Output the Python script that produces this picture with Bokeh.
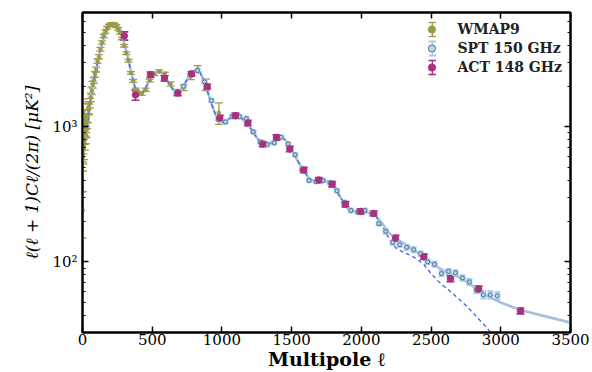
import math
from bokeh.plotting import figure
from bokeh.models import (Range1d, FixedTicker, LinearAxis, LogAxis, Whisker, TeeHead,
                          ColumnDataSource, Legend, LegendItem)
from bokeh.embed import file_html
from bokeh.resources import INLINE

# ---------------- data ----------------
model_ell = [2, 5, 10, 15, 20, 30, 40, 50, 60, 75, 100, 125, 150, 175, 200, 220, 240, 260, 280,
             300, 325, 350, 375, 400, 420, 440, 460, 480, 500, 520, 540, 560, 580, 600, 625, 650,
             675, 700, 725, 750, 775, 800, 820, 840, 860, 880, 900, 925, 950, 975, 1000, 1025,
             1050, 1075, 1100, 1125, 1150, 1175, 1200, 1225, 1250, 1275, 1300, 1325, 1350, 1375,
             1400, 1425, 1450, 1475, 1500, 1525, 1550, 1575, 1600, 1625, 1650, 1675, 1700, 1725,
             1750, 1775, 1800, 1825, 1850, 1875, 1900, 1925, 1950, 1975, 2000, 2050, 2100,
             2150, 2200, 2250, 2300, 2350, 2400, 2450, 2500, 2550, 2600, 2650, 2700, 2750, 2800,
             2850, 2900, 3000, 3140, 3300, 3500]
model_total = [1050, 900, 820, 800, 830, 920, 1060, 1400, 1600, 1950, 2700, 3600, 4500, 5200, 5650,
               5750, 5650, 5300, 4750, 4100, 3250, 2500, 1980, 1750, 1740, 1830, 2000, 2200, 2390,
               2520, 2570, 2530, 2420, 2260, 2040, 1880, 1800, 1840, 2000, 2230, 2450, 2590, 2620,
               2530, 2330, 2060, 1780, 1480, 1260, 1130, 1080, 1090, 1140, 1190, 1210, 1190, 1130,
               1065, 995, 910, 830, 770, 740, 735, 755, 795, 825, 830, 805, 750, 675, 605, 545, 495,
               450, 415, 398, 396, 400, 402, 396, 382, 362, 332, 300, 272, 250, 240, 237, 236, 235,
               232, 222, 192, 163, 148, 138, 128, 118, 108, 99, 91, 85, 81, 77, 72, 66, 60, 56, 50,
               44, 40, 35.5]
# CMB-only (dashed) curve: identical to the total up to l=2100, then these values
cmb_tail_ell = [2150, 2200, 2250, 2300, 2350, 2400, 2450, 2500, 2550, 2600, 2650, 2700, 2750,
                2800, 2850, 2900, 2950]
cmb_tail_d = [182, 148, 126, 118, 112, 105, 95, 82, 72, 65, 59, 53, 47.5, 42, 37, 32.5, 28]

wmap_ell = [2, 3, 4, 5, 6, 7, 8, 9, 10, 12, 14, 16, 18, 20, 23, 26, 29, 33, 37, 42, 47, 53, 59, 66,
            73, 81, 89, 98, 108, 118, 129, 140, 152, 164, 177, 190, 203, 216, 229, 242, 256, 270,
            284, 299, 314, 330, 347, 364, 382, 401, 425, 452, 482, 515, 550, 590, 632, 677, 725,
            775, 827, 885, 978]
wmap_d = [240, 850, 700, 1250, 850, 1200, 680, 1100, 720, 1000, 900, 1150, 800, 1000, 880, 1050,
          960, 1100, 1200, 1390, 1350, 1500, 1650, 1850, 2050, 2200, 2450, 2650, 3050, 3300, 3750,
          4200, 4700, 5050, 5400, 5600, 5700, 5770, 5700, 5550, 5300, 4950, 4500, 3980, 3500, 3080,
          2500, 2180, 1880, 1760, 1760, 1880, 2200, 2450, 2570, 2460, 2070, 1800, 1950, 2350, 2680,
          2050, 1270]
wmap_err = [90, 300, 230, 350, 220, 280, 150, 230, 150, 190, 160, 190, 130, 150, 130, 150, 130,
            130, 130, 140, 120, 120, 120, 120, 120, 110, 110, 110, 110, 110, 120, 120, 130, 130,
            130, 130, 130, 130, 130, 130, 120, 110, 100, 90, 80, 70, 60, 55, 50, 50, 50, 50, 55, 60,
            65, 70, 75, 85, 100, 120, 150, 200, 230]

spt_ell = [675, 725, 775, 825, 875, 925, 975, 1025, 1075, 1125, 1175, 1225, 1275, 1325, 1375,
           1425, 1475, 1525, 1575, 1625, 1675, 1725, 1775, 1825, 1875, 1925, 1975, 2025, 2075,
           2125, 2175, 2225, 2275, 2325, 2375, 2425, 2475, 2525, 2575, 2625, 2675, 2725, 2775,
           2825, 2875, 2925, 2975]
spt_d = [1790, 1990, 2430, 2600, 2150, 1560, 1150, 1085, 1190, 1190, 1150, 915, 770, 740, 760,
         835, 745, 620, 478, 400, 393, 400, 385, 336, 275, 240, 234, 240, 226, 192, 168, 139, 134,
         128, 123, 115, 100, 96, 82, 85, 83, 76, 71, 62, 57, 57, 56]
spt_err = [50, 50, 55, 55, 50, 40, 30, 28, 30, 30, 28, 22, 19, 18, 18, 20, 18, 15, 12, 10, 10, 10,
           10, 9, 8, 7, 7, 7, 7, 6, 6, 5, 5, 5, 5, 4.5, 4, 4, 3.5, 3.5, 3.5, 3.5, 3.5, 3.5, 3.5,
           3.5, 3.5]

act_ell = [300, 380, 488, 588, 684, 782, 894, 985, 1097, 1186, 1293, 1391, 1487, 1587, 1695, 1791,
           1886, 1994, 2089, 2245, 2448, 2639, 2842, 3141]
act_d = [4700, 1720, 2430, 2280, 1775, 2460, 1980, 1160, 1206, 1065, 744, 833, 684, 478, 403, 376,
         267, 236, 228, 150, 109, 75, 63, 43.4]
act_err = [330, 150, 110, 100, 80, 100, 80, 55, 55, 48, 34, 38, 31, 22, 18, 17, 12, 11, 10, 7, 5,
           3.7, 3.2, 2.2]

series_names = ["WMAP9", "SPT 150 GHz", "ACT 148 GHz"]
x_ticks = [0, 500, 1000, 1500, 2000, 2500, 3000, 3500]
y_ticks = [100, 1000]
y_minor = [30, 40, 50, 60, 70, 80, 90, 200, 300, 400, 500, 600, 700, 800, 900,
           2000, 3000, 4000, 5000, 6000, 7000]
y_labels = {100: "10²", 1000: "10³"}

# ---------------- styling ----------------
OLIVE = "#9c9a46"
SPT_LIGHT = "#a7cdee"
SPT_EDGE = "#4a7396"
SPT_FILL = "#c3d3df"
ACT = "#a5317f"
MODEL = "#a9c0dc"
CMB = "#3f63e6"
SERIF = "DejaVu Serif"
NAN = float("nan")

p = figure(width=592, height=372, x_range=Range1d(0, 3500), y_range=Range1d(30, 7000),
           y_axis_type="log", output_backend="svg", toolbar_location=None,
           min_border_left=82, min_border_right=22, min_border_top=12, min_border_bottom=39)
p.grid.visible = False
p.outline_line_color = "black"
p.outline_line_width = 2
p.background_fill_color = "white"
p.border_fill_color = "white"

# model curves
p.line(model_ell, model_total, line_color=MODEL, line_width=2.6)
cut = model_ell.index(2100) + 1
cmb_ell = model_ell[:cut] + cmb_tail_ell
cmb_d = model_total[:cut] + cmb_tail_d
p.line(cmb_ell, cmb_d, line_color=CMB, line_width=1.3, line_dash="4 3")


def add_errors(ell, d, err, color, width, cap):
    src = ColumnDataSource(dict(x=ell, y=d,
                                lo=[a - b for a, b in zip(d, err)],
                                hi=[a + b for a, b in zip(d, err)]))
    w = Whisker(base="x", lower="lo", upper="hi", source=src, dimension="height",
                line_color=color, line_width=width,
                upper_head=TeeHead(size=cap, line_color=color, line_width=width),
                lower_head=TeeHead(size=cap, line_color=color, line_width=width))
    p.add_layout(w)
    return src


w_src = add_errors(wmap_ell, wmap_d, wmap_err, OLIVE, 1.3, 8)
p.scatter("x", "y", source=w_src, size=3.5, fill_color=OLIVE, line_color=OLIVE)

s_src = add_errors(spt_ell, spt_d, spt_err, SPT_LIGHT, 2, 6)
p.scatter("x", "y", source=s_src, size=6.5, fill_color=SPT_LIGHT, line_color=None, fill_alpha=0.7)
p.scatter("x", "y", source=s_src, size=4, fill_color=SPT_FILL, line_color=SPT_EDGE, line_width=1)

a_src = add_errors(act_ell, act_d, act_err, ACT, 1.6, 8)
p.scatter("x", "y", source=a_src, size=6.5, fill_color=ACT, line_color=ACT)

# ---------------- axes ----------------
xa = p.xaxis[0]
xa.ticker = FixedTicker(ticks=x_ticks)
xa.axis_label = "Multipole ℓ"
ya = p.yaxis[0]
ya.ticker = FixedTicker(ticks=y_ticks, minor_ticks=y_minor)
ya.major_label_overrides = y_labels
ya.axis_label = "ℓ(ℓ + 1)Cℓ/(2π) [μK²]"

top = LinearAxis(ticker=FixedTicker(ticks=x_ticks))
right = LogAxis(ticker=FixedTicker(ticks=y_ticks, minor_ticks=y_minor))
p.add_layout(top, "above")
p.add_layout(right, "right")

for ax in [xa, ya, top, right]:
    ax.axis_line_color = "black"
    ax.axis_line_width = 2
    ax.major_tick_in = 6
    ax.major_tick_out = 0
    ax.minor_tick_in = 3
    ax.minor_tick_out = 0
    ax.major_tick_line_color = "black"
    ax.major_tick_line_width = 1.5
    ax.minor_tick_line_color = "black"
    ax.minor_tick_line_width = 1
    ax.major_label_text_font = SERIF
    ax.major_label_text_font_size = "15px"
    ax.major_label_text_color = "black"
    ax.axis_label_text_font = SERIF
    ax.axis_label_text_color = "black"

for ax in [xa, top]:
    ax.minor_tick_line_color = None
for ax in [top, right]:
    ax.major_label_text_font_size = "0px"
    ax.major_label_standoff = 0
    ax.major_label_text_color = None

xa.major_label_standoff = 1
xa.axis_label_standoff = 0
xa.axis_label_text_font_size = "19px"
xa.axis_label_text_font_style = "bold"
ya.major_label_standoff = 5
ya.axis_label_standoff = 7
ya.axis_label_text_font_size = "17px"
ya.axis_label_text_font_style = "italic"

# ---------------- legend ----------------
colors = [OLIVE, SPT_LIGHT, ACT]
widths = [1.3, 2, 1.6]
dots = [p.scatter(x=[NAN], y=[NAN], fill_color=OLIVE, line_color=OLIVE),
        p.scatter(x=[NAN], y=[NAN], fill_color=SPT_FILL, line_color=SPT_EDGE),
        p.scatter(x=[NAN], y=[NAN], fill_color=ACT, line_color=ACT)]
bars = [p.vbar(x=[NAN], top=[NAN], width=1, fill_color=c, line_color=None) for c in colors]
caps = [p.line(x=[NAN], y=[NAN], line_color=c, line_width=w) for c, w in zip(colors, widths)]

common = dict(padding=0, spacing=1, label_height=18, glyph_height=18, border_line_color=None,
              background_fill_alpha=0, location="top_right")

legend = Legend(items=[LegendItem(label=n, renderers=[r]) for n, r in zip(series_names, dots)],
                margin=8, glyph_width=20, label_standoff=16, label_text_font=SERIF,
                label_text_font_style="bold", label_text_font_size="14px",
                label_text_color="#222222", **common)

key_opts = dict(label_text_font_size="0px", label_standoff=0, **common)
bar_key = Legend(items=[LegendItem(label=" ", renderers=[r]) for r in bars],
                 margin=8, glyph_width=2, label_width=129, **key_opts)
cap_top = Legend(items=[LegendItem(label=" ", renderers=[r]) for r in caps],
                 margin=1, glyph_width=8, label_width=133, **key_opts)
cap_bot = Legend(items=[LegendItem(label=" ", renderers=[r]) for r in caps],
                 margin=15, glyph_width=8, label_width=119, **key_opts)
for lg in [bar_key, cap_top, cap_bot, legend]:
    p.add_layout(lg)

open("out.html", "w").write(file_html(p, INLINE))
